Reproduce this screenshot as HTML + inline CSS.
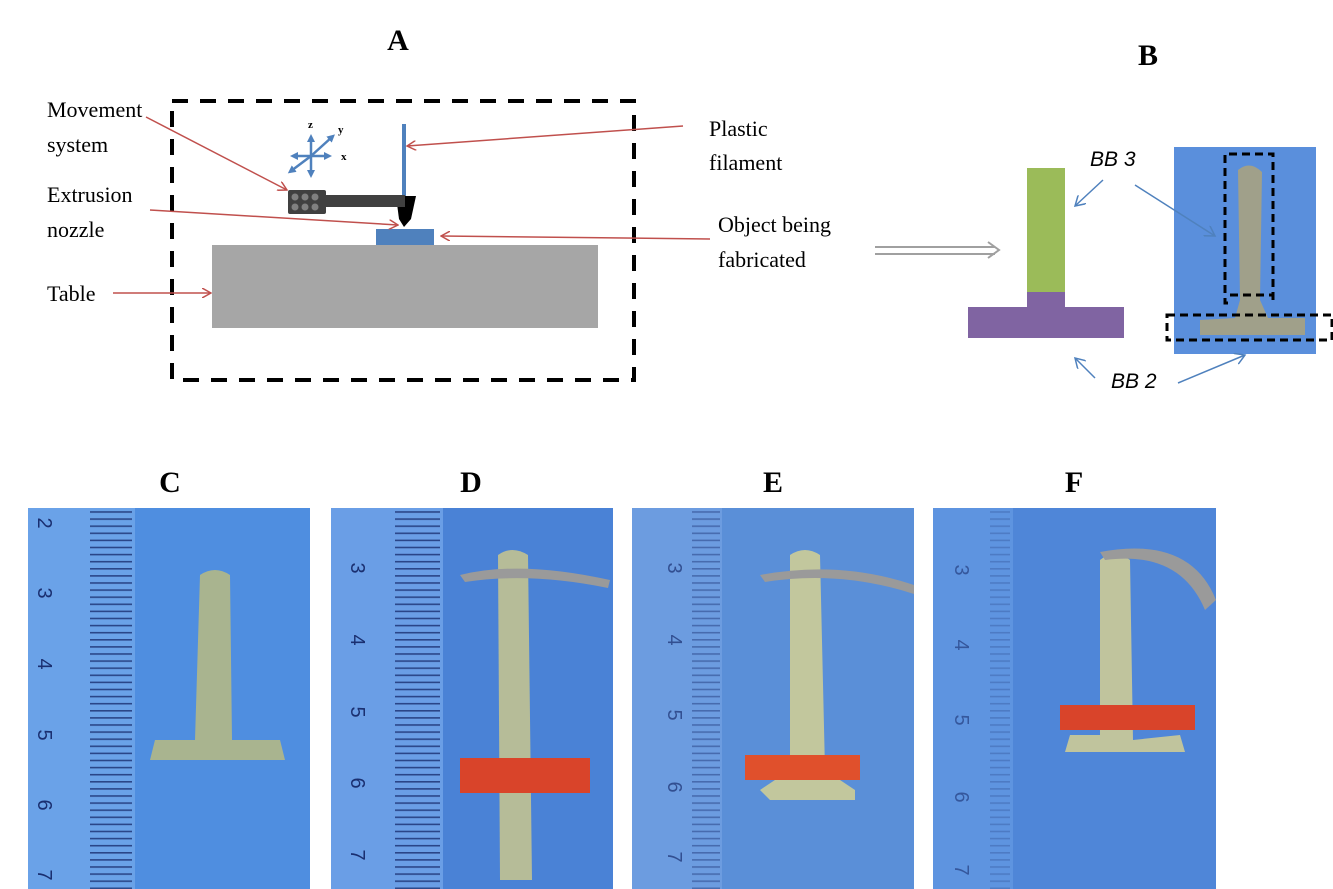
<!DOCTYPE html><html><head><style>body{margin:0;background:#fff}svg{display:block}</style></head><body>
<svg width="1333" height="889" xmlns="http://www.w3.org/2000/svg" font-family="Liberation Serif, serif">
<defs>
<marker id="ar" markerWidth="10" markerHeight="10" refX="9" refY="5" orient="auto" markerUnits="userSpaceOnUse"><path d="M0,0 L9,5 L0,10" fill="none" stroke="#c0504d" stroke-width="1.5"/></marker>
<marker id="ab" markerWidth="12" markerHeight="12" refX="10" refY="6" orient="auto" markerUnits="userSpaceOnUse"><path d="M0,0 L10,6 L0,12" fill="none" stroke="#4f81bd" stroke-width="1.5"/></marker>
<marker id="ax" markerWidth="8" markerHeight="8" refX="4" refY="4" orient="auto" markerUnits="userSpaceOnUse"><path d="M0,0 L8,4 L0,8z" fill="#4f81bd"/></marker>
<pattern id="rul" width="7" height="7.1" patternUnits="userSpaceOnUse"><rect width="7" height="1.6" fill="#1a2f70"/></pattern>
</defs>
<text x="398" y="50" font-size="30" font-weight="bold" text-anchor="middle">A</text>
<text x="1148" y="65" font-size="30" font-weight="bold" text-anchor="middle">B</text>
<rect x="172" y="101" width="462" height="279" fill="none" stroke="#000" stroke-width="4" stroke-dasharray="16,12"/>
<rect x="212" y="245" width="386" height="83" fill="#a6a6a6"/>
<rect x="376" y="229" width="58" height="16" fill="#4f81bd"/>
<rect x="402" y="124" width="4" height="74" fill="#4f81bd"/>
<path d="M396,196 L416,196 L411,219 L404,227 L399,219 Z" fill="#000"/>
<rect x="325" y="195" width="80" height="12" fill="#404040"/>
<rect x="288" y="190" width="38" height="24" rx="2" fill="#404040"/>
<g fill="#808080"><circle cx="295" cy="197" r="3.5"/><circle cx="305" cy="197" r="3.5"/><circle cx="315" cy="197" r="3.5"/><circle cx="295" cy="207" r="3.5"/><circle cx="305" cy="207" r="3.5"/><circle cx="315" cy="207" r="3.5"/></g>
<g stroke="#4f81bd" stroke-width="2.5"><line x1="311" y1="156" x2="311" y2="138" marker-end="url(#ax)"/><line x1="311" y1="156" x2="311" y2="174" marker-end="url(#ax)"/><line x1="311" y1="156" x2="328" y2="156" marker-end="url(#ax)"/><line x1="311" y1="156" x2="294" y2="156" marker-end="url(#ax)"/><line x1="311" y1="156" x2="332" y2="137" marker-end="url(#ax)"/><line x1="311" y1="156" x2="291" y2="171" marker-end="url(#ax)"/></g>
<text x="308" y="128" font-size="11" font-weight="bold">z</text><text x="338" y="133" font-size="11" font-weight="bold">y</text><text x="341" y="160" font-size="11" font-weight="bold">x</text>
<g stroke="#c0504d" stroke-width="1.5" fill="none">
<line x1="146" y1="117" x2="287" y2="190" marker-end="url(#ar)"/>
<line x1="150" y1="210" x2="398" y2="225" marker-end="url(#ar)"/>
<line x1="113" y1="293" x2="211" y2="293" marker-end="url(#ar)"/>
<line x1="683" y1="126" x2="407" y2="146" marker-end="url(#ar)"/>
<line x1="710" y1="239" x2="441" y2="236" marker-end="url(#ar)"/>
</g>
<g font-size="22"><text x="47" y="117">Movement</text><text x="47" y="152">system</text><text x="47" y="202">Extrusion</text><text x="47" y="237">nozzle</text><text x="47" y="301">Table</text>
<text x="709" y="136">Plastic</text><text x="709" y="170">filament</text><text x="718" y="232">Object being</text><text x="718" y="267">fabricated</text></g>
<g stroke="#a0a0a0" stroke-width="2" fill="none"><line x1="875" y1="247" x2="995" y2="247"/><line x1="875" y1="254" x2="995" y2="254"/><path d="M988,242 L999,250 L988,258"/></g>
<rect x="1027" y="168" width="38" height="124" fill="#9bbb59"/>
<rect x="1027" y="292" width="38" height="16" fill="#8064a2"/>
<rect x="968" y="307" width="156" height="31" fill="#8064a2"/>
<rect x="1174" y="147" width="142" height="207" fill="#5a8fdc"/>
<path d="M1238,170 Q1250,160 1262,172 L1260,300 L1268,318 L1305,318 L1305,335 L1200,335 L1200,320 L1235,318 L1240,300 Z" fill="#a0a08a"/>
<g fill="none" stroke="#000" stroke-width="3" stroke-dasharray="8,5"><path d="M1273,300 L1273,154 L1225,154 L1225,303 L1230,303 M1230,295 L1272,295"/><rect x="1167" y="315" width="165" height="25"/></g>
<g stroke="#4f81bd" stroke-width="1.5" fill="none"><line x1="1103" y1="180" x2="1075" y2="206" marker-end="url(#ab)"/><line x1="1135" y1="185" x2="1215" y2="236" marker-end="url(#ab)"/><line x1="1095" y1="378" x2="1075" y2="358" marker-end="url(#ab)"/><line x1="1178" y1="383" x2="1245" y2="355" marker-end="url(#ab)"/></g>
<g font-family="Liberation Sans, sans-serif" font-style="italic" font-size="21"><text x="1090" y="166">BB 3</text><text x="1111" y="388">BB 2</text></g>
<g font-size="30" font-weight="bold" text-anchor="middle"><text x="170" y="492">C</text><text x="471" y="492">D</text><text x="773" y="492">E</text><text x="1074" y="492">F</text></g>
<rect x="28" y="508" width="282" height="381" fill="#4f8ee0"/>
<rect x="331" y="508" width="282" height="381" fill="#4a82d6"/>
<rect x="632" y="508" width="282" height="381" fill="#5a8fd8"/>
<rect x="933" y="508" width="283" height="381" fill="#4f86d8"/>
<rect x="28" y="508" width="107" height="381" fill="#6aa2e8"/>
<rect x="90" y="508" width="42" height="381" fill="url(#rul)" opacity="0.8"/>
<rect x="331" y="508" width="112" height="381" fill="#6a9ee6"/>
<rect x="395" y="508" width="45" height="381" fill="url(#rul)" opacity="0.8"/>
<rect x="632" y="508" width="90" height="381" fill="#6c9ce0"/>
<rect x="692" y="508" width="28" height="381" fill="url(#rul)" opacity="0.45"/>
<rect x="933" y="508" width="80" height="381" fill="#5e94e0"/>
<rect x="990" y="508" width="20" height="381" fill="url(#rul)" opacity="0.25"/>
<g font-family="Liberation Sans, sans-serif" font-size="20" fill="#1a2f70" text-anchor="middle">
<text transform="translate(45,523) rotate(90)" dy="7">2</text><text transform="translate(45,593) rotate(90)" dy="7">3</text><text transform="translate(45,664) rotate(90)" dy="7">4</text><text transform="translate(45,735) rotate(90)" dy="7">5</text><text transform="translate(45,805) rotate(90)" dy="7">6</text><text transform="translate(45,875) rotate(90)" dy="7">7</text>
<text transform="translate(358,568) rotate(90)" dy="7">3</text><text transform="translate(358,640) rotate(90)" dy="7">4</text><text transform="translate(358,712) rotate(90)" dy="7">5</text><text transform="translate(358,783) rotate(90)" dy="7">6</text><text transform="translate(358,855) rotate(90)" dy="7">7</text>
<text transform="translate(675,568) rotate(90)" dy="7" opacity="0.7">3</text><text transform="translate(675,640) rotate(90)" dy="7" opacity="0.7">4</text><text transform="translate(675,715) rotate(90)" dy="7" opacity="0.7">5</text><text transform="translate(675,787) rotate(90)" dy="7" opacity="0.7">6</text><text transform="translate(675,857) rotate(90)" dy="7" opacity="0.7">7</text>
<text transform="translate(962,570) rotate(90)" dy="7" opacity="0.6">3</text><text transform="translate(962,645) rotate(90)" dy="7" opacity="0.6">4</text><text transform="translate(962,720) rotate(90)" dy="7" opacity="0.6">5</text><text transform="translate(962,797) rotate(90)" dy="7" opacity="0.6">6</text><text transform="translate(962,870) rotate(90)" dy="7" opacity="0.6">7</text>
</g>
<path d="M200,575 Q215,565 230,575 L232,740 L280,740 L285,760 L150,760 L155,740 L195,740 Z" fill="#a9b48f"/>
<path d="M498,555 Q512,545 528,555 L532,880 L500,880 Z" fill="#b6bc98"/>
<rect x="460" y="758" width="130" height="35" fill="#d9442a"/>
<path d="M460,575 Q520,560 610,580 L608,588 Q530,572 465,582 Z" fill="#9a9a9a"/>
<path d="M790,555 Q805,545 820,555 L825,770 L855,790 L855,800 L770,800 L760,790 L790,770 Z" fill="#c2c79d"/>
<rect x="745" y="755" width="115" height="25" fill="#e0502c"/>
<path d="M760,575 Q840,560 914,585 L914,594 Q840,570 765,582 Z" fill="#9a9a9a"/>
<path d="M1100,560 Q1115,548 1130,560 L1133,740 L1180,735 L1185,752 L1065,752 L1070,735 L1100,735 Z" fill="#c0c49d"/>
<rect x="1060" y="705" width="135" height="25" fill="#d9442a"/>
<path d="M1100,552 Q1190,535 1216,600 L1205,610 Q1180,550 1105,560 Z" fill="#9a9a9a"/>
</svg>
</body></html>
